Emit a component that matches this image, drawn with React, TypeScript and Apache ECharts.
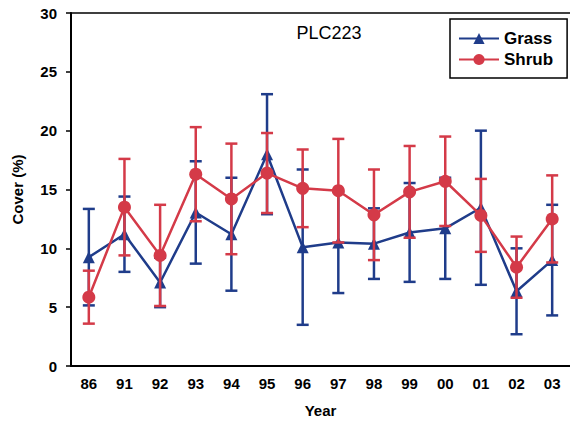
import React, { useEffect, useRef } from "react";
import * as echarts from "echarts";

const years = ["86", "91", "92", "93", "94", "95", "96", "97", "98", "99", "00", "01", "02", "03"];
const grassMean = [9.25, 11.2, 7.1, 13.05, 11.2, 18.0, 10.1, 10.5, 10.4, 11.35, 11.7, 13.45, 6.35, 9.0];
const grassErr = [4.1, 3.2, 2.1, 4.35, 4.8, 5.1, 6.6, 4.3, 3.0, 4.2, 4.3, 6.55, 3.65, 4.7];
const shrubMean = [5.85, 13.5, 9.4, 16.3, 14.2, 16.4, 15.1, 14.9, 12.85, 14.8, 15.7, 12.8, 8.4, 12.5];
const shrubErr = [2.25, 4.1, 4.3, 4.0, 4.7, 3.4, 3.3, 4.4, 3.85, 3.9, 3.8, 3.1, 2.6, 3.7];

const BLUE = "#1f3c8a";
const RED = "#d43a48";

const errData = (mean: number[], err: number[]) =>
  mean.map((m, i) => [i, m - err[i], m + err[i]]);

const makeErrRender = (color: string) => (params: any, api: any) => {
  const idx = api.value(0);
  const lo = api.coord([idx, api.value(1)]);
  const hi = api.coord([idx, api.value(2)]);
  const hw = 6;
  const style = { stroke: color, lineWidth: 2.5 };
  return {
    type: "group",
    children: [
      { type: "line", shape: { x1: lo[0], y1: lo[1], x2: hi[0], y2: hi[1] }, style },
      { type: "line", shape: { x1: hi[0] - hw, y1: hi[1], x2: hi[0] + hw, y2: hi[1] }, style },
      { type: "line", shape: { x1: lo[0] - hw, y1: lo[1], x2: lo[0] + hw, y2: lo[1] }, style },
    ],
  };
};

export default function App() {
  const ref = useRef<HTMLDivElement>(null);
  useEffect(() => {
    if (!ref.current) return;
    const chart = echarts.init(ref.current, undefined, { renderer: "svg" });
    const font = "Liberation Sans, Arial, sans-serif";
    chart.setOption({
      animation: false,
      backgroundColor: "#fff",
      textStyle: { fontFamily: font },
      title: {
        text: "PLC223",
        left: 324,
        top: 19,
        textAlign: "center",
        textStyle: { fontSize: 18, fontWeight: "normal", color: "#000", fontFamily: font },
      },
      legend: {
        data: ["Grass", "Shrub"],
        orient: "vertical",
        left: 450,
        top: 19,
        itemWidth: 40,
        itemHeight: 14,
        itemGap: 4,
        padding: [11, 14, 10, 8],
        borderColor: "#000",
        borderWidth: 1.5,
        borderRadius: 0,
        textStyle: { fontSize: 17, fontWeight: "bold", color: "#000", fontFamily: font },
      },
      grid: { left: 71, top: 13, width: 502, bottom: 59 },
      xAxis: [
        {
          type: "category",
          data: years,
          boundaryGap: true,
          name: "Year",
          nameLocation: "middle",
          nameGap: 37,
          nameTextStyle: { fontSize: 15, fontWeight: "bold", color: "#000", fontFamily: font },
          axisLine: { lineStyle: { color: "#000", width: 2 } },
          axisTick: { alignWithLabel: true, length: 4, lineStyle: { color: "#000", width: 1.5 } },
          axisLabel: { margin: 10, fontSize: 15, fontWeight: "bold", color: "#000", fontFamily: font },
        },
        {
          type: "category",
          data: years,
          position: "top",
          axisLine: { lineStyle: { color: "#000", width: 1.5 } },
          axisTick: { show: false },
          axisLabel: { show: false },
        },
      ],
      yAxis: {
        type: "value",
        min: 0,
        max: 30,
        interval: 5,
        name: "Cover (%)",
        nameLocation: "middle",
        nameGap: 46,
        nameTextStyle: { fontSize: 15, fontWeight: "bold", color: "#000", fontFamily: font },
        axisLine: { show: true, lineStyle: { color: "#000", width: 2 } },
        axisTick: { show: true, length: 5, lineStyle: { color: "#000", width: 1.5 } },
        axisLabel: { margin: 14, fontSize: 15, fontWeight: "bold", color: "#000", fontFamily: font },
        splitLine: { show: false },
      },
      series: [
        {
          name: "GrassErr",
          type: "custom",
          renderItem: makeErrRender(BLUE),
          data: errData(grassMean, grassErr),
          z: 1,
        },
        {
          name: "Grass",
          type: "line",
          data: grassMean,
          symbol: "triangle",
          symbolSize: 12,
          itemStyle: { color: BLUE },
          lineStyle: { color: BLUE, width: 2.5 },
          z: 2,
        },
        {
          name: "ShrubErr",
          type: "custom",
          renderItem: makeErrRender(RED),
          data: errData(shrubMean, shrubErr),
          z: 3,
        },
        {
          name: "Shrub",
          type: "line",
          data: shrubMean,
          symbol: "circle",
          symbolSize: 13,
          itemStyle: { color: RED },
          lineStyle: { color: RED, width: 2.5 },
          z: 4,
        },
      ],
    });
    return () => chart.dispose();
  }, []);
  return (
    <div
      ref={ref}
      style={{ position: "absolute", left: 0, top: 0, width: 570, height: 425 }}
    />
  );
}
